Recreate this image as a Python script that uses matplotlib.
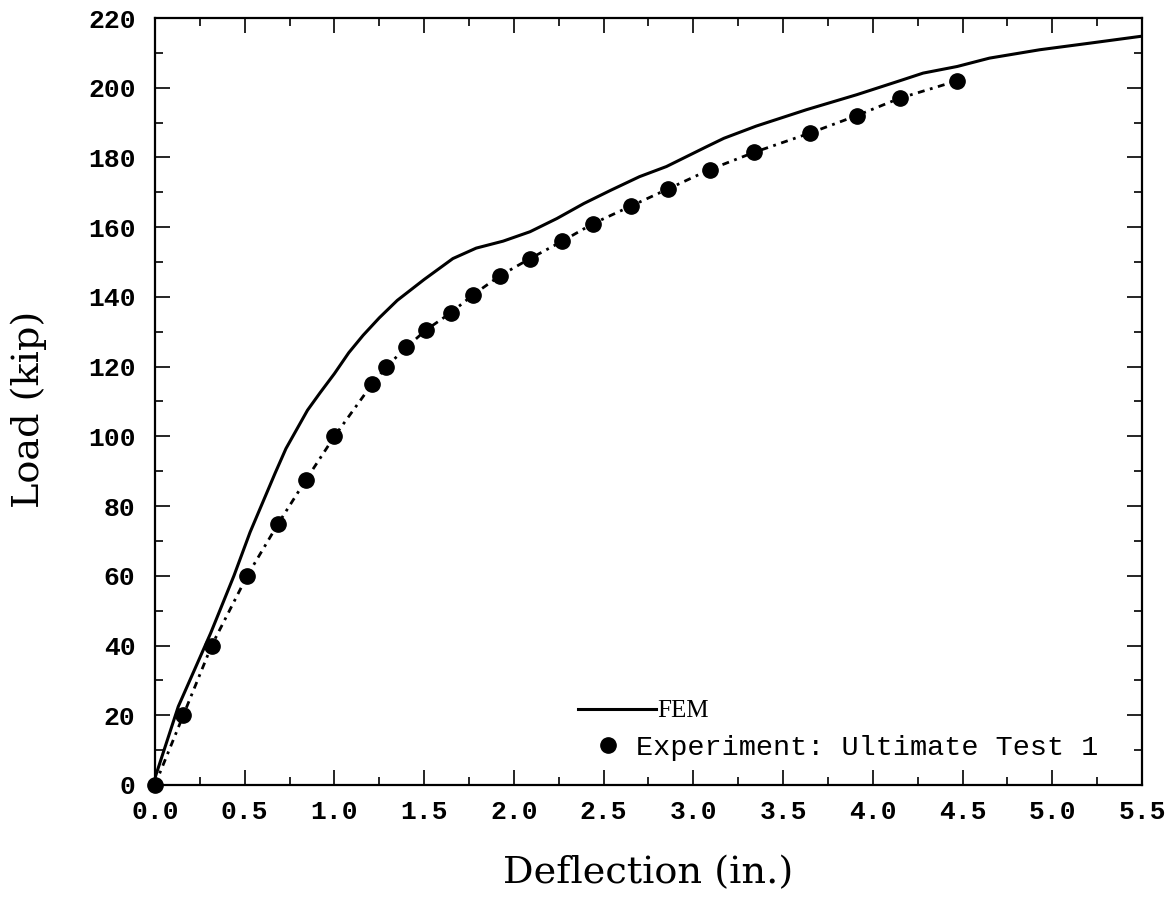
import matplotlib
matplotlib.use("Agg")
import matplotlib.pyplot as plt
from matplotlib.lines import Line2D
from matplotlib.ticker import MultipleLocator, FormatStrFormatter

# FEM curve
fem_x = [0.0, 0.13, 0.31, 0.44, 0.53, 0.60, 0.67, 0.73, 0.79, 0.85, 0.92, 1.0,
         1.08, 1.16, 1.25, 1.35, 1.50, 1.66, 1.79, 1.94, 2.09, 2.24, 2.39, 2.54,
         2.70, 2.85, 3.07, 3.17, 3.35, 3.63, 3.91, 4.15, 4.28, 4.47, 4.65, 4.93,
         5.21, 5.5]
fem_y = [2, 22.5, 43.5, 60, 72.5, 81, 89.5, 96.5, 102, 107.5, 112.5, 118,
         124, 129, 134, 139, 145, 151, 154, 156, 158.7, 162.5, 166.8, 170.6,
         174.5, 177.4, 183, 185.5, 189, 193.7, 198, 202, 204.2, 206.1, 208.5, 210.9,
         212.8, 214.8]

# experiment: ultimate test 1
exp_x = [0.0, 0.158, 0.316, 0.514, 0.687, 0.841, 1.0, 1.21, 1.29, 1.40, 1.51,
         1.65, 1.77, 1.92, 2.09, 2.27, 2.44, 2.65, 2.86, 3.09, 3.34, 3.65, 3.91,
         4.15, 4.47]
exp_y = [0, 20, 40, 60, 75, 87.5, 100, 115, 120, 125.5, 130.5, 135.5, 140.5,
         146, 151, 156, 161, 166, 171, 176.5, 181.5, 187, 192, 197, 202]

fig = plt.figure(figsize=(11.73, 8.97), dpi=100)
ax = fig.add_axes([0.1321, 0.1249, 0.8415, 0.8550])

ax.plot(fem_x, fem_y, color="black", lw=2.2, solid_capstyle="round")
ax.plot(exp_x, exp_y, color="black", lw=2.0, linestyle=(0, (2.5, 2, 1, 2)))
ax.plot(exp_x, exp_y, "o", color="black", ms=11, clip_on=False)

ax.set_xlim(0, 5.5)
ax.set_ylim(0, 220)
ax.xaxis.set_major_locator(MultipleLocator(0.5))
ax.xaxis.set_minor_locator(MultipleLocator(0.25))
ax.yaxis.set_major_locator(MultipleLocator(20))
ax.yaxis.set_minor_locator(MultipleLocator(10))
ax.xaxis.set_major_formatter(FormatStrFormatter("%.1f"))

ax.tick_params(which="both", direction="in", top=True, right=True, width=1.2)
ax.tick_params(which="major", length=11)
ax.tick_params(which="minor", length=6)
ax.tick_params(axis="x", pad=11)
ax.tick_params(axis="y", pad=14)
for lab in ax.get_xticklabels() + ax.get_yticklabels():
    lab.set_family("Liberation Mono")
    lab.set_fontsize(19)
    lab.set_weight("bold")
for s in ax.spines.values():
    s.set_linewidth(1.6)

ax.set_xlabel("Deflection (in.)", family="DejaVu Serif", fontsize=27.5)
ax.set_ylabel("Load (kip)", family="DejaVu Serif", fontsize=27.5)
ax.xaxis.set_label_coords(0.5, -0.092)
ax.yaxis.set_label_coords(-0.109, 0.49)

# legend, two pieces so the entries sit like the original
h1 = Line2D([], [], color="black", lw=2.2)
leg1 = ax.legend([h1], ["FEM"], loc="center left",
                 bbox_to_anchor=(578 / 1173, 1 - 711 / 897),
                 bbox_transform=fig.transFigure, frameon=False,
                 prop={"family": "Liberation Serif", "size": 18},
                 handlelength=3.1, handletextpad=0.05, borderpad=0,
                 borderaxespad=0)
ax.add_artist(leg1)
h2 = Line2D([], [], color="black", marker="o", ms=11, lw=0)
ax.legend([h2], ["Experiment: Ultimate Test 1"], loc="center left",
          bbox_to_anchor=(596 / 1173, 1 - 748 / 897),
          bbox_transform=fig.transFigure, frameon=False, numpoints=1,
          prop={"family": "Liberation Mono", "size": 20.5},
          handlelength=0.85, handletextpad=0.55, borderpad=0, borderaxespad=0)

fig.savefig("out.png", dpi=100)
